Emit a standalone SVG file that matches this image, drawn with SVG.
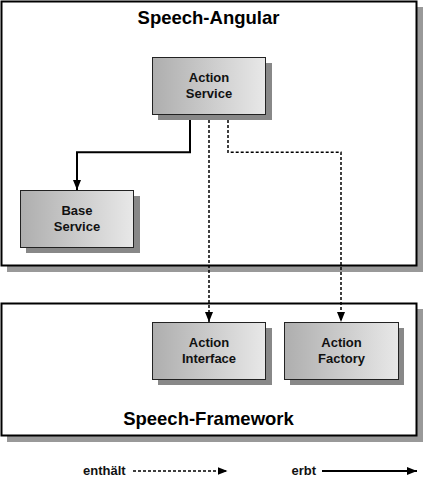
<svg xmlns="http://www.w3.org/2000/svg" width="424" height="482" viewBox="0 0 424 482">
<defs>
<linearGradient id="g" x1="0" y1="0" x2="1" y2="0">
<stop offset="0" stop-color="#aeaeae"/>
<stop offset="1" stop-color="#e8e8e8"/>
</linearGradient>
<marker id="ah" markerWidth="10" markerHeight="8" refX="10" refY="4" orient="auto" markerUnits="userSpaceOnUse">
<path d="M0,0 L10,4 L0,8 Z" fill="#000"/>
</marker>
</defs>
<style>
.frame{fill:#fff;stroke:#000;stroke-width:2}
.fshadow{fill:#999}
.node{fill:url(#g);stroke:#222;stroke-width:1}
.nshadow{fill:#888}
.title{font-family:"Liberation Sans",Arial,sans-serif;font-weight:bold;font-size:18.5px;fill:#000;text-anchor:middle}
.lbl{font-family:"Liberation Sans",Arial,sans-serif;font-weight:bold;font-size:13px;fill:#111;text-anchor:middle}
.leg{font-family:"Liberation Sans",Arial,sans-serif;font-weight:bold;font-size:13px;fill:#111}
.solid{fill:none;stroke:#000;stroke-width:2}
.dash{fill:none;stroke:#000;stroke-width:1.5;stroke-dasharray:3,2}
</style>
<g id="speech-angular">
<rect class="fshadow" x="7" y="7" width="416" height="265"/>
<rect class="frame" x="1.5" y="1.5" width="415" height="264"/>
<text class="title" x="208.5" y="23.5">Speech-Angular</text>
</g>
<g id="speech-framework">
<rect class="fshadow" x="7" y="309" width="416" height="133"/>
<rect class="frame" x="1.5" y="303.5" width="415" height="132"/>
<text class="title" x="208.5" y="424.5">Speech-Framework</text>
</g>
<g id="connectors">
<path class="solid" d="M190,115 V152.3 H77 V190" marker-end="url(#ah)"/>
<path class="dash" d="M209,115 V322" marker-end="url(#ah)"/>
<path class="dash" d="M228,115 V152.3 H341 V322" marker-end="url(#ah)"/>
</g>
<g id="action-service">
<rect class="nshadow" x="158" y="63" width="114" height="57"/>
<rect class="node" x="152.5" y="57.5" width="113" height="57"/>
<text class="lbl" x="209" y="81.5">Action</text>
<text class="lbl" x="209" y="97.5">Service</text>
</g>
<g id="base-service">
<rect class="nshadow" x="26" y="196" width="114" height="57"/>
<rect class="node" x="20.5" y="190.5" width="113" height="57"/>
<text class="lbl" x="77" y="214.5">Base</text>
<text class="lbl" x="77" y="230.5">Service</text>
</g>
<g id="action-interface">
<rect class="nshadow" x="158" y="328" width="114" height="57"/>
<rect class="node" x="152.5" y="322.5" width="113" height="57"/>
<text class="lbl" x="209" y="346.5">Action</text>
<text class="lbl" x="209" y="362.5">Interface</text>
</g>
<g id="action-factory">
<rect class="nshadow" x="290" y="328" width="114" height="57"/>
<rect class="node" x="284.5" y="322.5" width="114" height="57"/>
<text class="lbl" x="341.5" y="346.5">Action</text>
<text class="lbl" x="341.5" y="362.5">Factory</text>
</g>
<g id="legend">
<text class="leg" x="83" y="475">enthält</text>
<path class="dash" d="M133,471 H227.5" marker-end="url(#ah)"/>
<text class="leg" x="291.5" y="475">erbt</text>
<path class="solid" d="M322,471 H417" marker-end="url(#ah)"/>
</g>
</svg>
